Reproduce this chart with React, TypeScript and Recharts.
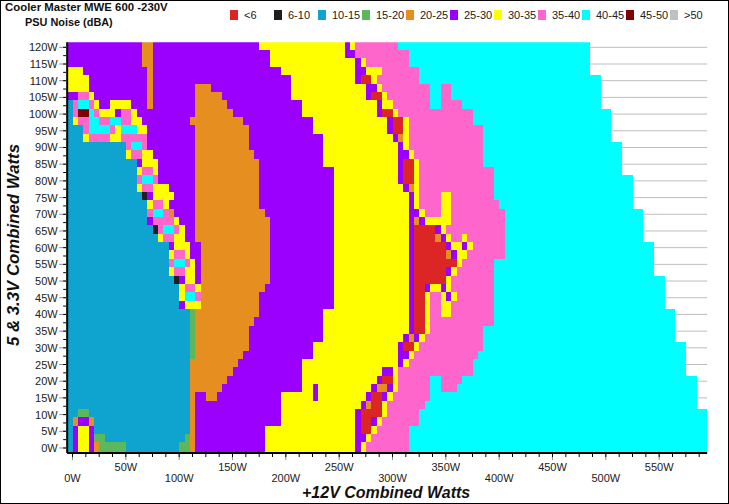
import { Bar, BarChart, CartesianGrid, Cell, XAxis, YAxis } from 'recharts'

const bandCodes = ['R', 'K', 'B', 'G', 'O', 'P', 'Y', 'M', 'C', 'D', 'S']
const bandLabels = ['<6', '6-10', '10-15', '15-20', '20-25', '25-30', '30-35', '35-40', '40-45', '45-50', '>50']
const bandColors = ['#dc2626', '#1f1f1f', '#0fa3cf', '#5cb85c', '#e68e1f', '#9b00ff', '#ffff00', '#ff66cc', '#00ffff', '#7f0000', '#c0c0c0']

// 5 & 3.3V load of each row, top to bottom
const rowWatts = [
  120, 117.5, 115, 112.5, 110, 107.5, 105, 102.5, 100, 97.5, 95, 92.5, 90, 87.5, 85, 82.5, 80,
  77.5, 75, 72.5, 70, 67.5, 65, 62.5, 60, 57.5, 55, 52.5, 50, 47.5, 45, 42.5, 40, 37.5, 35, 32.5,
  30, 27.5, 25, 22.5, 20, 17.5, 15, 12.5, 10, 7.5, 5, 2.5, 0, -2.5,
]

// noise band runs per row: letter = band, number = +12V load where the run ends
const rowRuns = [
  'P65 O75 P175 Y255 P260 Y265 M305 C485',
  'P65 O75 P185 Y255 P265 M315 C485',
  'P65 O75 P185 Y265 P270 Y275 M315 C485',
  'Y10 P70 O75 P195 Y265 P275 Y290 M325 C485',
  'Y15 P70 O75 P205 Y265 P270 R280 Y285 M325 C495',
  'Y15 P70 O75 P115 O130 P205 Y275 P285 Y290 M335 C345 M355 C495',
  'P5 M15 Y20 P70 O75 P115 O140 P205 Y275 P280 R290 Y295 M335 C345 M355 C495',
  'B0 M5 C15 M20 Y25 P35 Y55 P70 O75 P115 O145 P215 Y285 P290 Y300 M335 C345 M365 C495',
  'B0 M5 D15 C20 M25 Y40 P45 M55 Y60 P115 O150 P215 Y285 P290 R300 Y305 M375 C505',
  'B0 Y5 M15 C25 M35 C45 M55 Y65 P110 O160 P225 Y295 P300 R310 Y315 M375 C505',
  'B10 M15 C35 M40 Y45 C60 Y70 P115 O165 P225 Y295 P300 R310 Y315 M385 C505',
  'B10 Y15 M35 Y45 M70 P115 O165 P235 Y300 P305 O310 Y315 M385 C505',
  'B50 M55 C65 M70 P115 O165 P235 Y305 P310 Y315 M385 C515',
  'B50 Y55 M65 Y75 P115 O170 P235 Y305 P315 Y320 M385 C515',
  'B60 P65 Y80 P115 O175 P235 Y305 P310 R320 Y325 M385 C515',
  'B60 Y65 M75 Y80 P115 O175 P245 Y305 P310 R320 Y325 M395 C515',
  'B60 M65 C75 M80 P115 O175 P245 Y305 P310 R320 Y325 M395 C525',
  'B60 Y65 M75 Y90 P115 O175 P245 Y310 P315 O320 Y325 M395 C525',
  'B65 K70 P75 Y95 P115 O175 P245 Y315 P320 Y325 M345 Y355 M395 C525',
  'B70 Y75 M85 Y90 P115 O175 P245 Y315 P320 Y325 M345 Y355 M400 C525',
  'B70 M75 C85 M90 O95 P115 O180 P245 Y315 P325 Y330 M345 Y355 M405 C535',
  'B70 P75 M95 Y100 P115 O185 P245 Y315 P320 O325 P330 Y355 M405 C535',
  'B75 K80 M85 C95 M100 Y105 P115 O185 P245 Y315 P320 R340 P345 Y350 M405 C535',
  'B80 Y85 M95 Y105 P115 O185 P245 Y315 P320 R340 O345 P350 Y355 M365 Y370 M405 C535',
  'B90 P95 Y110 P120 O185 P245 Y315 P320 R350 P355 Y365 P370 Y375 M405 C545',
  'B90 Y95 M105 Y110 P120 O185 P245 Y315 P320 R350 O355 P360 Y370 M405 C545',
  'B90 M95 C105 M110 Y115 P120 O185 P245 Y315 P320 R360 Y365 M395 C545',
  'B90 Y95 M105 Y115 P120 O185 P245 Y315 P320 R350 P355 Y360 M395 C545',
  'B95 K100 P105 Y115 P120 O185 P245 Y315 P320 R350 Y355 M395 C555',
  'B100 Y105 M115 Y120 O180 P245 Y315 P320 R330 P335 Y345 P350 Y355 M395 C555',
  'B100 Y105 C115 M120 O175 P245 Y315 P320 R330 Y335 M345 Y350 P355 Y360 M395 C555',
  'B100 P105 Y120 O175 P245 Y315 P320 R330 Y335 M345 Y355 M395 C555',
  'B110 G115 O175 P235 Y315 P320 R330 Y335 M345 Y355 M395 C565',
  'B110 G115 O170 P235 Y315 P320 R330 Y335 M395 C565',
  'B110 G115 O165 P235 Y315 P320 R330 Y335 M385 C565',
  'B110 G115 O165 P235 Y310 P315 O320 P325 Y330 M385 C565',
  'B110 G115 O165 P225 Y305 P310 R320 Y325 M385 C575',
  'B110 G115 O160 P225 Y305 P315 Y320 M380 C575',
  'B110 O155 P215 Y305 P310 Y315 M375 C575',
  'B110 O150 P215 Y290 P300 Y305 M375 C575',
  'B110 O145 P215 Y285 P290 R300 Y305 M335 C345 M365 C585',
  'B110 O140 P215 Y225 P230 Y280 P285 O295 P300 Y305 M335 C345 M360 C585',
  'B110 O115 P125 O135 P195 Y225 P230 Y275 P280 R290 P295 Y300 M335 C585',
  'B110 O115 P195 Y270 P275 O280 R290 Y295 M330 C585',
  'B5 G15 B110 O115 P195 Y265 P270 R290 Y295 M325 C595',
  'B0 O5 P15 O20 B110 O115 P195 Y265 P270 R280 P285 Y290 M325 C595',
  'B0 P5 Y15 P20 B110 O115 P180 Y265 P270 R280 Y285 M315 C595',
  'B0 P5 Y15 P20 G30 B105 G110 O115 P180 Y265 P275 Y280 M315 C595',
  'B0 P5 Y15 P20 O25 G50 B100 G110 O115 P180 Y265 P270 Y275 M315 C595',
  'B0 P5 Y15 P20 O25 G50 B100 G110 O115 P180 Y265 P270 Y275 M315 C595',
]

const xTicks = Array.from({ length: 48 }, (_, i) => i * 12.5)
const yTicks = Array.from({ length: 49 }, (_, i) => i * 2.5)
const gridWatts = Array.from({ length: 25 }, (_, i) => i * 5)

const START_WATTS = -5
const ROW_SHIFT = 0.4
const FONT = '"Liberation Sans", Arial, sans-serif'

const parsedRows = rowRuns.map((row) =>
  row.split(' ').map((run) => ({ band: run[0], end: Number(run.slice(1)) })),
)
const segmentCount = Math.max(...parsedRows.map((runs) => runs.length))
const segmentIds = Array.from({ length: segmentCount }, (_, i) => i)

const chartData = parsedRows.map((runs, rowIndex) => {
  const entry: Record<string, number> = { load: rowWatts[rowIndex] + ROW_SHIFT, lead: START_WATTS }
  let last = START_WATTS
  runs.forEach((run, i) => {
    entry[`s${i}`] = run.end - last
    last = run.end
  })
  return entry
})

function segmentColor(rowIndex: number, segment: number) {
  const run = parsedRows[rowIndex][segment]
  return run ? bandColors[bandCodes.indexOf(run.band)] : 'none'
}

function XTick({ x, y, payload }: any) {
  const value = payload.value as number
  const major = value % 50 === 0
  const low = value % 100 === 0
  return (
    <g>
      {major && <line x1={x} x2={x} y1={y + 1} y2={y + 7} stroke="#8c8c8c" />}
      <line x1={x} x2={x} y1={y + 1} y2={y + 4} stroke="#000" />
      {major && (
        <text x={x} y={y + (low ? 29 : 18)} textAnchor="middle" fontSize={11} fontFamily={FONT} fill="#222">
          {`${value}W`}
        </text>
      )}
    </g>
  )
}

function YTick({ x, y, payload }: any) {
  const value = payload.value as number
  const major = value % 5 === 0
  return (
    <g>
      {major && <line x1={x - 8} x2={x - 1} y1={y} y2={y} stroke="#8c8c8c" />}
      <line x1={x - 4} x2={x - 1} y1={y} y2={y} stroke="#000" />
      {major && (
        <text x={x - 9.5} y={y + 4} textAnchor="end" fontSize={11} fontFamily={FONT} fill="#222">
          {`${value}W`}
        </text>
      )}
    </g>
  )
}

const labelStyle = { position: 'absolute', fontFamily: FONT, whiteSpace: 'nowrap', color: '#111' } as const

export default function App() {
  return (
    <div
      style={{
        position: 'absolute',
        left: 0,
        top: 0,
        width: 729,
        height: 504,
        background: '#fff',
        border: '1px solid #000',
        boxSizing: 'border-box',
      }}
    >
      <div style={{ position: 'absolute', left: -1, top: -1 }}>
        <BarChart
          width={729}
          height={504}
          data={chartData}
          layout="vertical"
          barSize={8.34}
          margin={{ top: 42.3, right: 21.83, bottom: 0, left: 0.17 }}
        >
          <CartesianGrid vertical={false} horizontalValues={gridWatts} stroke="#bdbdbd" strokeWidth={1} />
          <XAxis
            type="number"
            domain={[START_WATTS, 595]}
            ticks={xTicks}
            interval={0}
            allowDataOverflow
            tick={<XTick />}
            tickLine={false}
            tickSize={0}
            tickMargin={0}
            height={51}
            axisLine={{ stroke: '#000', strokeWidth: 2 }}
          />
          <YAxis
            type="number"
            dataKey="load"
            domain={[-1.5, 121.5]}
            ticks={yTicks}
            interval={0}
            reversed
            allowDataOverflow
            tick={<YTick />}
            tickLine={false}
            tickSize={0}
            tickMargin={0}
            width={67}
            axisLine={{ stroke: '#000', strokeWidth: 2 }}
          />
          <Bar dataKey="lead" stackId="runs" fill="none" isAnimationActive={false} />
          {segmentIds.map((segment) => (
            <Bar
              key={segment}
              dataKey={`s${segment}`}
              stackId="runs"
              isAnimationActive={false}
              shapeRendering="crispEdges"
            >
              {chartData.map((_, rowIndex) => (
                <Cell key={rowIndex} fill={segmentColor(rowIndex, segment)} />
              ))}
            </Bar>
          ))}
        </BarChart>
        <div style={{ ...labelStyle, left: 5, top: 1, fontSize: 11.4, fontWeight: 700 }}>Cooler Master MWE 600 -230V</div>
        <div style={{ ...labelStyle, left: 25, top: 16, fontSize: 10.9, fontWeight: 700 }}>PSU Noise (dBA)</div>
        {bandLabels.map((label, i) => (
          <div key={label}>
            <div style={{ position: 'absolute', left: 230 + i * 44, top: 10, width: 8, height: 10, background: bandColors[i] }} />
            <div style={{ ...labelStyle, left: 244 + i * 44, top: 9, fontSize: 11, color: '#222' }}>{label}</div>
          </div>
        ))}
        <div
          style={{
            ...labelStyle,
            left: 14,
            top: 245,
            fontSize: 16.8,
            fontWeight: 700,
            fontStyle: 'italic',
            transform: 'translate(-50%, -50%) rotate(-90deg)',
          }}
        >
          5 &amp; 3.3V Combined Watts
        </div>
        <div style={{ ...labelStyle, left: 302, top: 484, fontSize: 16, fontWeight: 700, fontStyle: 'italic' }}>
          +12V Combined Watts
        </div>
      </div>
    </div>
  )
}
